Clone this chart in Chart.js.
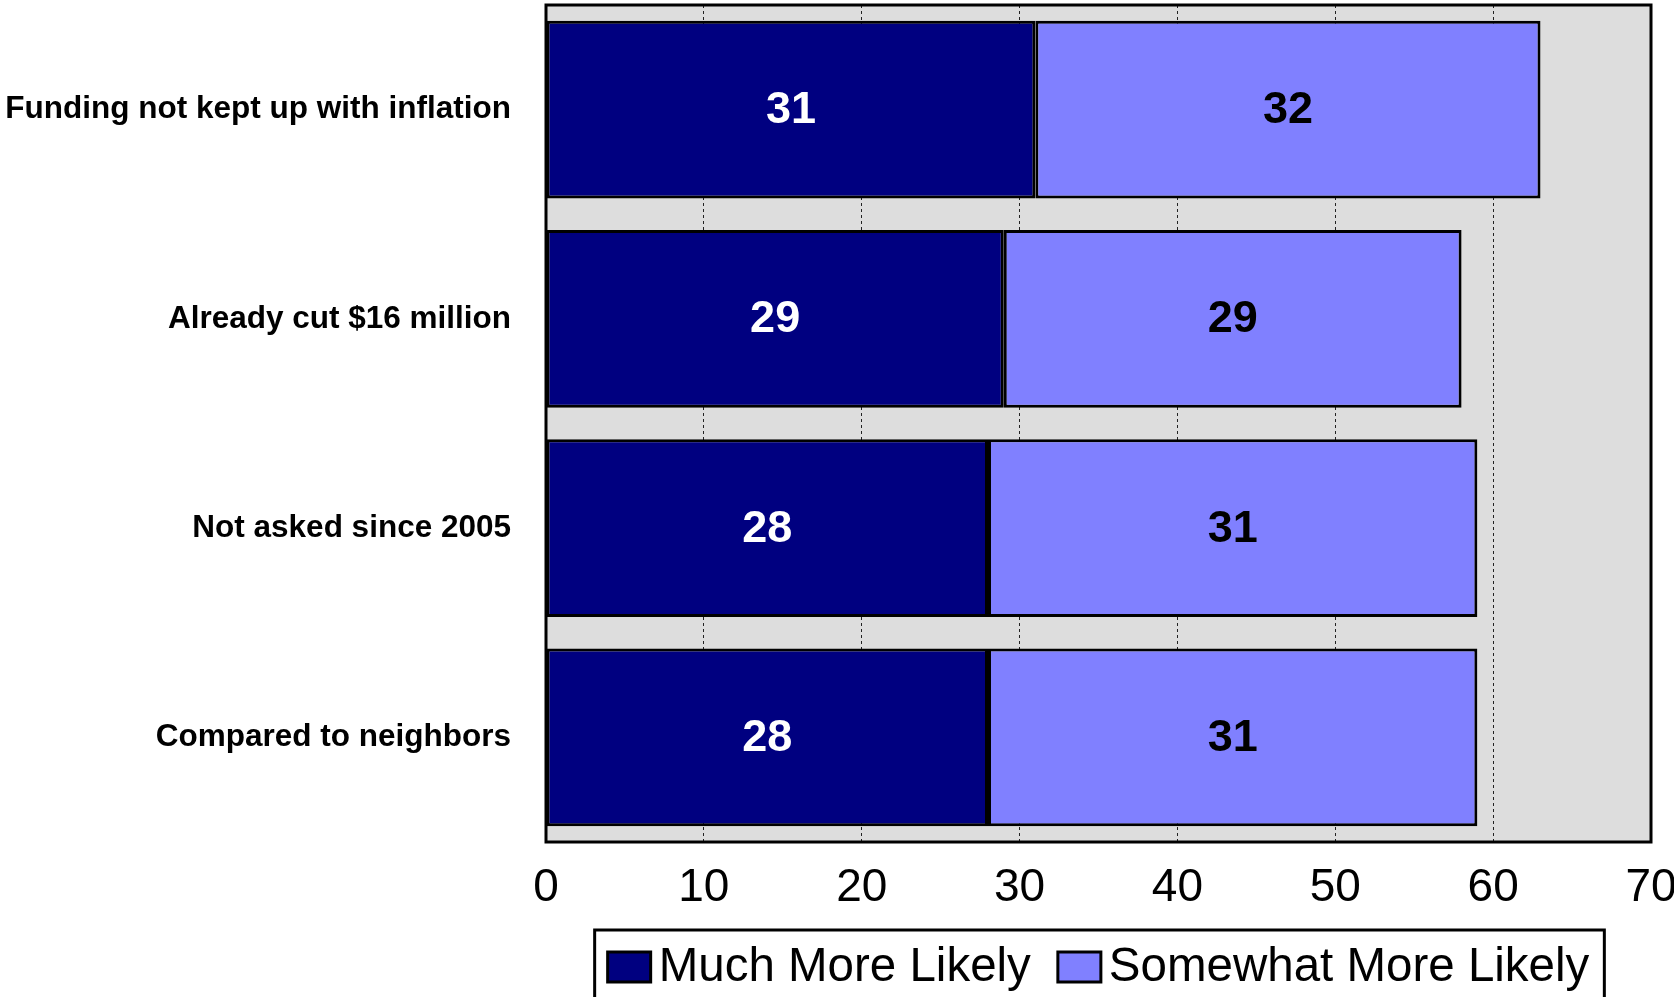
<!DOCTYPE html>
<html>
<head>
<meta charset="utf-8">
<script src="https://cdn.jsdelivr.net/npm/chart.js@4"></script>
<style>
html,body{margin:0;padding:0;background:#fff;}
#wrap{width:1674px;height:997px;position:relative;overflow:hidden;}
canvas{display:block;}
</style>
</head>
<body>
<div id="wrap"><canvas id="c" width="1674" height="997"></canvas></div>
<script>
const categories = [
  "Funding not kept up with inflation",
  "Already cut $16 million",
  "Not asked since 2005",
  "Compared to neighbors"
];
const muchMoreLikely = [31, 29, 28, 28];
const somewhatMoreLikely = [32, 29, 31, 31];
const seriesNames = ["Much More Likely", "Somewhat More Likely"];
const seriesColors = ["#000080", "#8080FF"];
const xTickValues = [0, 10, 20, 30, 40, 50, 60, 70];

const FONT = "'Liberation Sans', Arial, sans-serif";

const bgPlugin = {
  id: 'bgPlugin',
  beforeDraw(chart) {
    const ctx = chart.ctx, a = chart.chartArea;
    ctx.save();
    ctx.fillStyle = '#ffffff';
    ctx.fillRect(0, 0, chart.width, chart.height);
    ctx.fillStyle = '#DDDDDD';
    ctx.fillRect(a.left, a.top, a.right - a.left, a.bottom - a.top);
    ctx.restore();
  },
  afterDatasetsDraw(chart) {
    const ctx = chart.ctx, a = chart.chartArea;
    ctx.save();
    ctx.font = "bold 45px " + FONT;
    ctx.textAlign = 'center';
    ctx.textBaseline = 'middle';
    chart.data.datasets.forEach((ds, di) => {
      const meta = chart.getDatasetMeta(di);
      ctx.fillStyle = di === 0 ? '#ffffff' : '#000000';
      meta.data.forEach((el, i) => {
        const cx = (el.x + el.base) / 2;
        ctx.fillText(String(ds.data[i]), cx, el.y + 1);
      });
    });
    ctx.strokeStyle = '#000';
    ctx.lineWidth = 3;
    ctx.strokeRect(a.left, a.top, a.right - a.left, a.bottom - a.top);
    ctx.restore();
  },
  afterDraw(chart) {
    const ctx = chart.ctx;
    ctx.save();
    ctx.font = "47.5px " + FONT;
    ctx.textBaseline = 'middle';
    ctx.textAlign = 'left';
    const boxW = 43, boxH = 30, gapText = 8, gapItem = 27;
    const widths = chart.data.datasets.map(ds => boxW + gapText + ctx.measureText(ds.label).width);
    const total = widths.reduce((s, w) => s + w, 0) + gapItem * (widths.length - 1);
    const a = chart.chartArea;
    const center = (a.left + a.right) / 2;
    let x = center - total / 2;
    const yMid = 967;
    const start = x;
    chart.data.datasets.forEach((ds, i) => {
      ctx.fillStyle = ds.backgroundColor;
      ctx.fillRect(x, yMid - boxH / 2, boxW, boxH);
      ctx.strokeStyle = '#000';
      ctx.lineWidth = 3;
      ctx.strokeRect(x, yMid - boxH / 2, boxW, boxH);
      ctx.fillStyle = '#000';
      ctx.fillText(ds.label, x + boxW + gapText, yMid + 1);
      x += widths[i] + gapItem;
    });
    const end = x - gapItem;
    ctx.lineWidth = 3;
    ctx.strokeStyle = '#000';
    ctx.strokeRect(start - 13, 930, (end - start) + 28, 100);
    ctx.restore();
  }
};

new Chart(document.getElementById('c'), {
  type: 'bar',
  data: {
    labels: categories,
    datasets: [
      {
        label: seriesNames[0],
        data: muchMoreLikely,
        backgroundColor: seriesColors[0],
        borderColor: '#000',
        borderWidth: 3,
        borderSkipped: false
      },
      {
        label: seriesNames[1],
        data: somewhatMoreLikely,
        backgroundColor: seriesColors[1],
        borderColor: '#000',
        borderWidth: 3,
        borderSkipped: false
      }
    ]
  },
  options: {
    indexAxis: 'y',
    responsive: false,
    animation: false,
    devicePixelRatio: 1,
    layout: { padding: { top: 5, right: 23, left: 0, bottom: 0 } },
    datasets: { bar: { barPercentage: 0.85, categoryPercentage: 1.0 } },
    plugins: {
      legend: { display: false },
      tooltip: { enabled: false }
    },
    scales: {
      x: {
        stacked: true,
        min: 0,
        max: 70,
        afterBuildTicks(scale) { scale.ticks = xTickValues.map(v => ({ value: v })); },
        afterFit(scale) {
          scale.height = 155;
          scale.paddingLeft = 0; scale.paddingRight = 0;
          scale.paddingTop = 0; scale.paddingBottom = 0;
        },
        ticks: {
          color: '#000',
          font: { family: FONT, size: 46 },
          padding: 19,
          maxRotation: 0,
          autoSkip: false
        },
        grid: {
          drawTicks: false,
          lineWidth: 1,
          color: (c) => (c.tick && (c.tick.value === 0 || c.tick.value === 70)) ? 'rgba(0,0,0,0)' : '#222222'
        },
        border: { display: false, dash: [3, 3] }
      },
      y: {
        stacked: true,
        afterFit(scale) {
          scale.width = 546;
          scale.paddingTop = 0; scale.paddingBottom = 0;
          scale.paddingLeft = 0; scale.paddingRight = 0;
        },
        ticks: {
          color: '#000',
          font: { family: FONT, size: 31.5, weight: 'bold' },
          padding: 35
        },
        grid: { display: false, drawTicks: false },
        border: { display: false }
      }
    }
  },
  plugins: [bgPlugin]
});
</script>
</body>
</html>
